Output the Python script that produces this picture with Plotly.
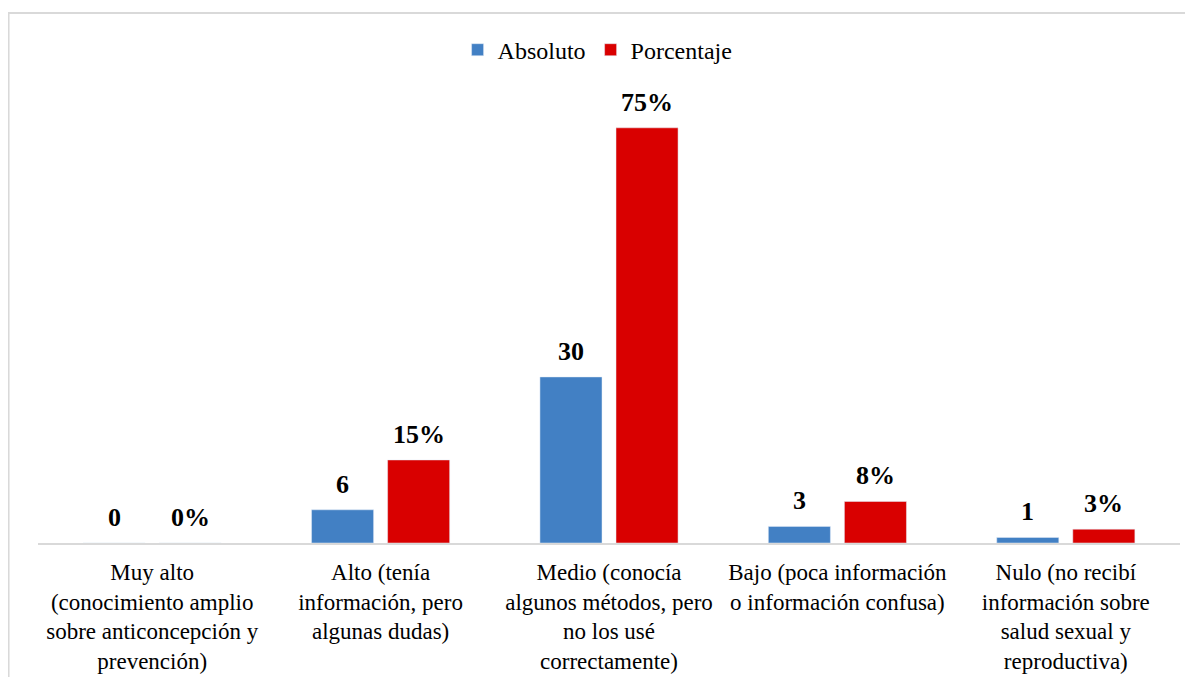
import plotly.graph_objects as go

# Nivel de conocimiento sobre anticoncepción
categorias = [
    "Muy alto<br>(conocimiento amplio<br>sobre anticoncepción y<br>prevención)",
    "Alto (tenía<br>información, pero<br>algunas dudas)",
    "Medio (conocía<br>algunos métodos, pero<br>no los usé<br>correctamente)",
    "Bajo (poca información<br>o información confusa)",
    "Nulo (no recibí<br>información sobre<br>salud sexual y<br>reproductiva)",
]
absoluto = [0, 6, 30, 3, 1]
porcentaje = [0, 15, 75, 7.5, 2.5]
etiquetas_abs = ["0", "6", "30", "3", "1"]
etiquetas_pct = ["0%", "15%", "75%", "8%", "3%"]

fuente = "Liberation Serif"

fig = go.Figure()
fig.add_trace(go.Bar(x=categorias, y=absoluto, name="Absoluto",
                     marker=dict(color="#4280c4")))
fig.add_trace(go.Bar(x=categorias, y=porcentaje, name="Porcentaje",
                     marker=dict(color="#d90000")))

# etiquetas de datos en negrita, algo separadas de la barra
for serie, textos, desplaz in [(absoluto, etiquetas_abs, -38), (porcentaje, etiquetas_pct, 38)]:
    for cat, val, txt in zip(categorias, serie, textos):
        fig.add_annotation(x=cat, y=val, text="<b>%s</b>" % txt, showarrow=False,
                           xanchor="center", yanchor="bottom", xshift=desplaz, yshift=9,
                           font=dict(family=fuente, size=26, color="black"))

fig.update_layout(
    width=1185, height=669,
    margin=dict(l=30, r=13, t=70, b=134),
    barmode="group", bargap=0.334, bargroupgap=0.184,
    plot_bgcolor="white", paper_bgcolor="white",
    font=dict(family=fuente, size=24, color="black"),
    showlegend=True,
    legend=dict(orientation="h", x=0.49, xanchor="center", y=1.06, yanchor="middle",
                font=dict(family=fuente, size=24), itemwidth=30, traceorder="normal",
                bgcolor="rgba(0,0,0,0)"),
)
fig.update_xaxes(showline=True, linecolor="#d9d9d9", linewidth=2, ticks="",
                 tickfont=dict(family=fuente, size=23), showgrid=False,
                 ticklabelstandoff=7, automargin=False)
fig.update_yaxes(range=[0, 84], visible=False, showgrid=False, zeroline=False)

# marco gris exterior
fig.add_shape(type="rect", xref="paper", yref="paper",
              x0=-0.0258, x1=1.02, y0=-0.5, y1=1.14,
              line=dict(color="#d9d9d9", width=2), fillcolor="rgba(0,0,0,0)", layer="below")

fig.write_html("out.html")
